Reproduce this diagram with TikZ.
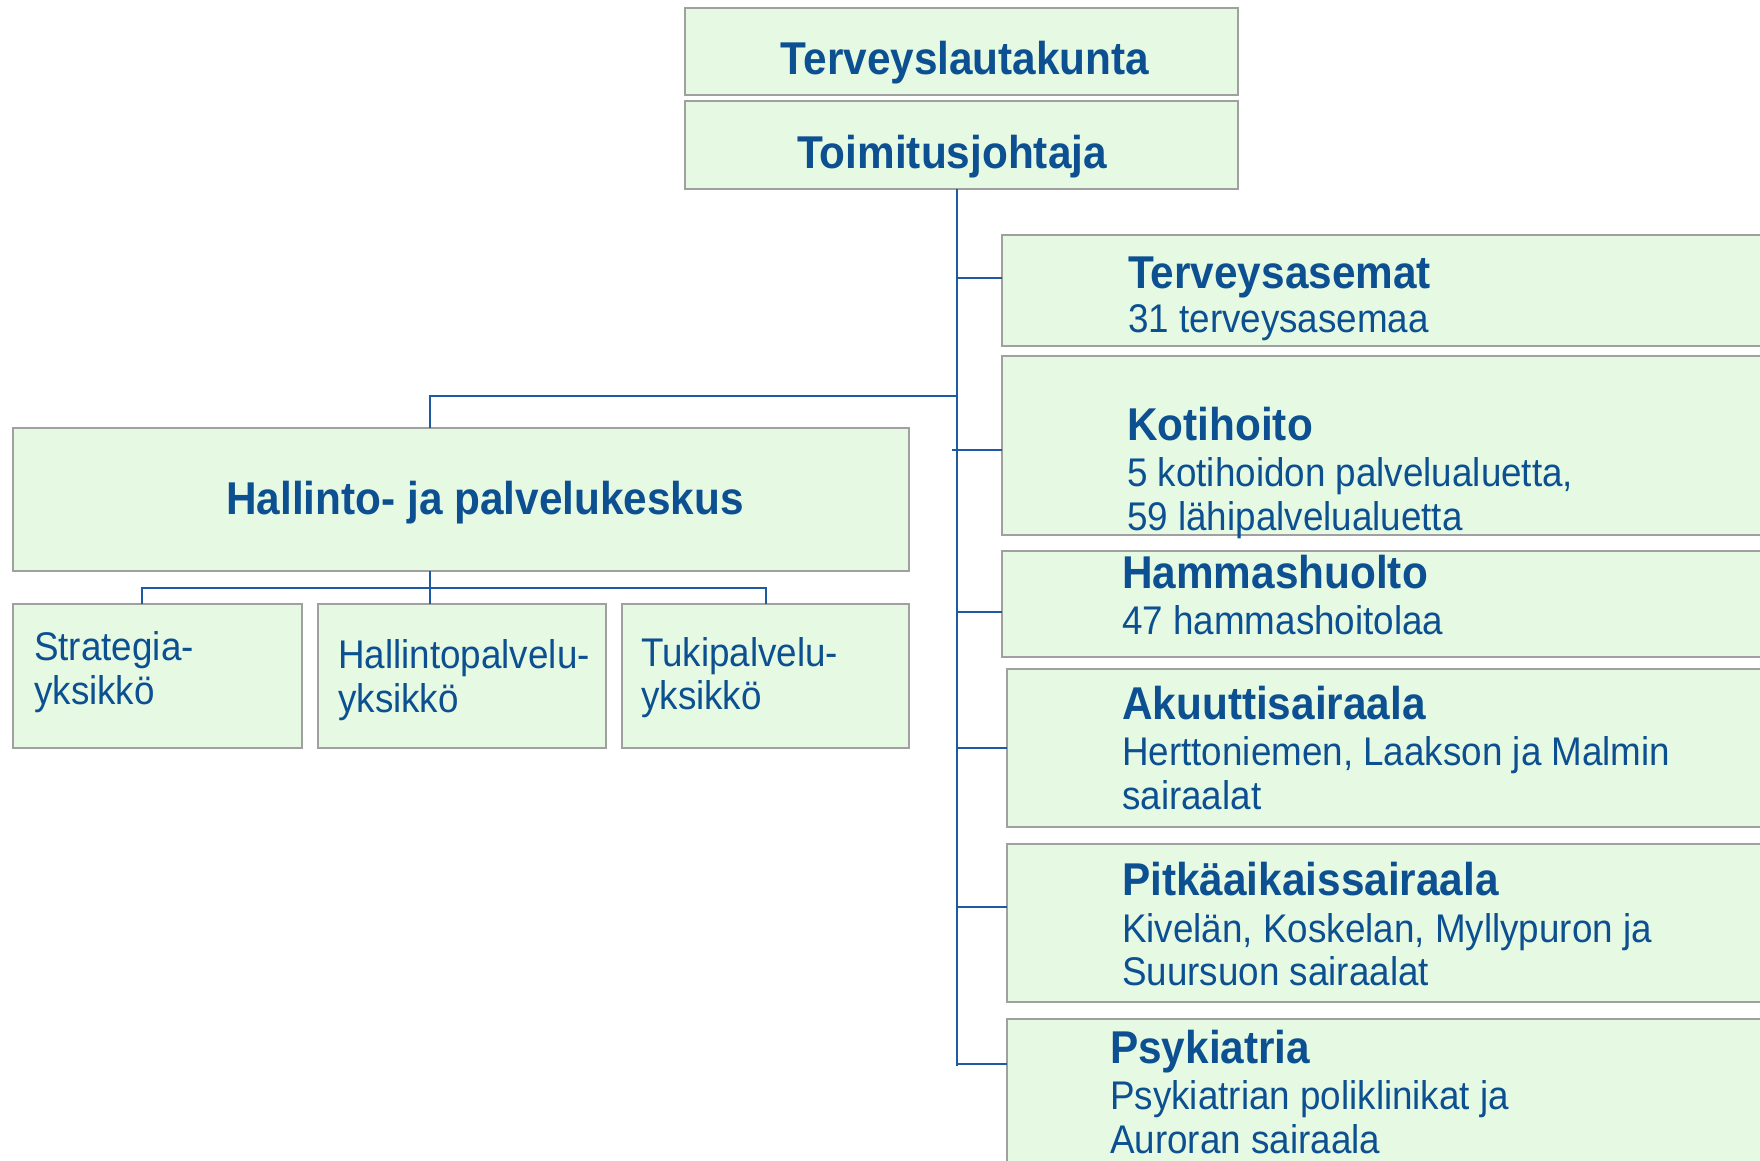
\documentclass[tikz,border=0pt]{standalone}
\usepackage{fontspec}
\setmainfont[FakeStretch=0.92]{Liberation Sans}
\definecolor{txtblue}{RGB}{12,80,145}
\definecolor{lineblue}{RGB}{30,90,160}
\definecolor{boxfill}{RGB}{230,249,226}
\definecolor{boxline}{RGB}{160,160,160}
\tikzset{
  box/.style={draw=boxline, line width=2pt, fill=boxfill, anchor=north west, inner sep=0pt, outer sep=0pt},
  hd/.style={text=txtblue, font=\fontsize{46}{50}\selectfont\bfseries, inner sep=0pt, anchor=base west},
  hdc/.style={hd, anchor=base},
  sub/.style={text=txtblue, font=\fontsize{40}{44}\selectfont, inner sep=0pt, anchor=base west},
  conn/.style={draw=lineblue, line width=2pt}
}
\begin{document}
\begin{tikzpicture}[x=1pt,y=-1pt]
\useasboundingbox (0,0) rectangle (1760,1160);
\clip (0,0) rectangle (1760,1160);
% top boxes
\node[box, minimum width=553pt, minimum height=87pt] (tl) at (685,8) {};
\node[box, minimum width=553pt, minimum height=88pt] (tj) at (685,101) {};
\node[hdc] (tlt) at (965,74) {Terveyslautakunta};
\node[hdc] (tjt) at (952,168) {Toimitusjohtaja};
% left side
\node[box, minimum width=896pt, minimum height=143pt] (hal) at (13,428) {};
\node[hdc] (halt) at (485,514) {Hallinto- ja palvelukeskus};
\node[box, minimum width=289pt, minimum height=144pt] (st) at (13,604) {};
\node[box, minimum width=288pt, minimum height=144pt] (hp) at (318,604) {};
\node[box, minimum width=287pt, minimum height=144pt] (tk) at (622,604) {};
\node[sub] (st1) at (34,660) {Strategia-};
\node[sub] (st2) at (34,704) {yksikkö};
\node[sub] (hp1) at (338,668) {Hallintopalvelu-};
\node[sub] (hp2) at (338,712) {yksikkö};
\node[sub] (tk1) at (641,666) {Tukipalvelu-};
\node[sub] (tk2) at (641,709) {yksikkö};
% right side
\node[box, minimum width=800pt, minimum height=111pt] (ter) at (1002,235) {};
\node[box, minimum width=800pt, minimum height=179pt] (kot) at (1002,356) {};
\node[box, minimum width=800pt, minimum height=106pt] (ham) at (1002,551) {};
\node[box, minimum width=800pt, minimum height=158pt] (aku) at (1007,669) {};
\node[box, minimum width=800pt, minimum height=158pt] (pit) at (1007,844) {};
\node[box, minimum width=800pt, minimum height=200pt] (psy) at (1007,1019) {};
\node[hd] (ter1) at (1128,288) {Terveysasemat};
\node[sub] (ter2) at (1128,332) {31 terveysasemaa};
\node[hd] (kot1) at (1127,440) {Kotihoito};
\node[sub] (kot2) at (1127,486) {5 kotihoidon palvelualuetta,};
\node[sub] (kot3) at (1127,530) {59 lähipalvelualuetta};
\node[hd] (ham1) at (1122,588) {Hammashuolto};
\node[sub] (ham2) at (1122,634) {47 hammashoitolaa};
\node[hd] (aku1) at (1122,719) {Akuuttisairaala};
\node[sub] (aku2) at (1122,765) {Herttoniemen, Laakson ja Malmin};
\node[sub] (aku3) at (1122,809) {sairaalat};
\node[hd] (pit1) at (1122,895) {Pitkäaikaissairaala};
\node[sub] (pit2) at (1122,942) {Kivelän, Koskelan, Myllypuron ja};
\node[sub] (pit3) at (1122,985) {Suursuon sairaalat};
\node[hd] (psy1) at (1110,1063) {Psykiatria};
\node[sub] (psy2) at (1110,1109) {Psykiatrian poliklinikat ja};
\node[sub] (psy3) at (1110,1153) {Auroran sairaala};
% connectors
\coordinate (trunkEnd) at (957,1066);
\coordinate (j) at (957,396);
\coordinate (bus) at (430,588);
\draw[conn] (tj.south -| trunkEnd) -- (trunkEnd);
\draw[conn] ([yshift=-43pt]ter.north west -| trunkEnd) -- ([yshift=-43pt]ter.north west);
\draw[conn] ([yshift=-94pt, xshift=-50pt]kot.north west) -- ([yshift=-94pt]kot.north west);
\draw[conn] ([yshift=-61pt]ham.north west -| trunkEnd) -- ([yshift=-61pt]ham.north west);
\draw[conn] ([yshift=-79pt]aku.north west -| trunkEnd) -- ([yshift=-79pt]aku.north west);
\draw[conn] ([yshift=-63pt]pit.north west -| trunkEnd) -- ([yshift=-63pt]pit.north west);
\draw[conn] ([yshift=-45pt]psy.north west -| trunkEnd) -- ([yshift=-45pt]psy.north west);
\draw[conn] (hal.north -| bus) |- (j);
\draw[conn] (hal.south -| bus) -- (hp.north -| bus);
\draw[conn] ([xshift=-16pt]st.north) |- (bus) -| (tk.north);
\end{tikzpicture}
\end{document}
